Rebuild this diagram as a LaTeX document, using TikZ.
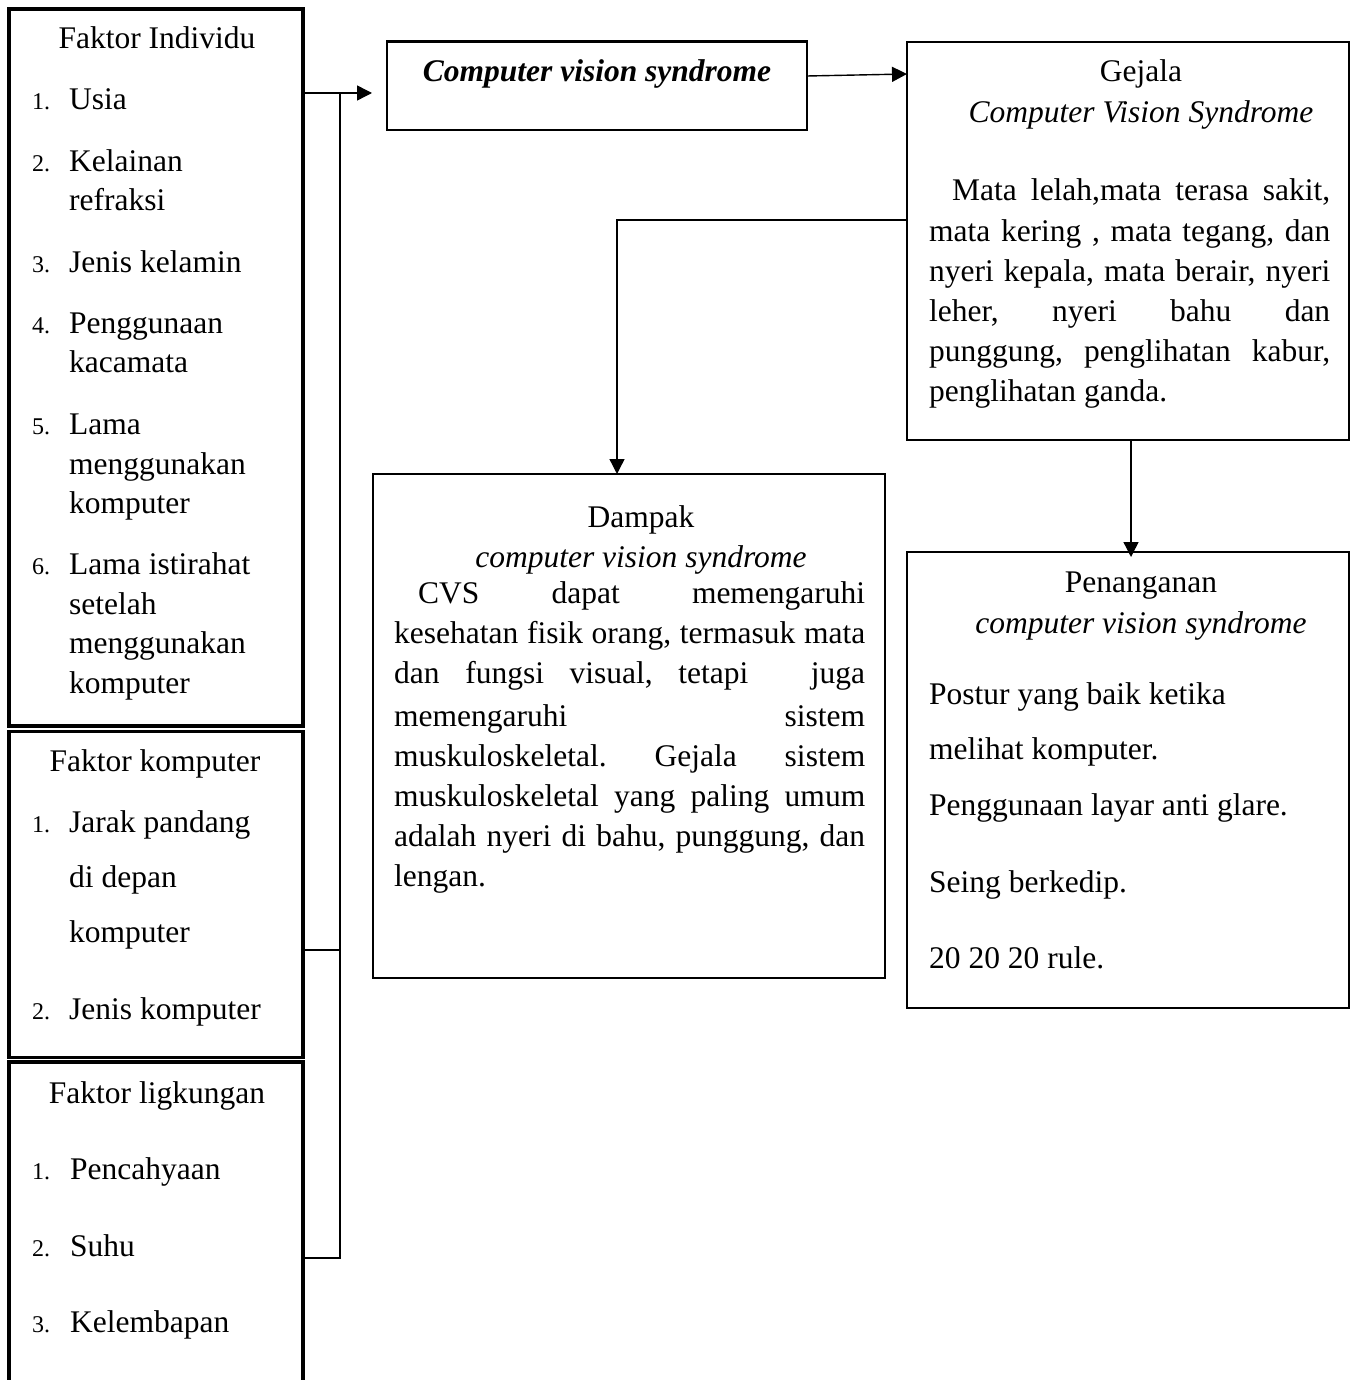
\documentclass[tikz,border=0pt]{standalone}
\usepackage{fontspec}
\setmainfont{Liberation Serif}
\usetikzlibrary{arrows.meta,calc}
\newcommand\jline[2]{\makebox[#1pt][s]{#2}}
\frenchspacing
\begin{document}
\begin{tikzpicture}[x=1pt,y=-1pt,
  box/.style={draw, line width=2.5pt, inner sep=0pt, outer sep=0pt, anchor=north west},
  lbox/.style={box, line width=3.5pt},
  conn/.style={line width=1.4pt},
  arr/.style={conn, -{Triangle[length=15pt,width=15pt]}},
  txt/.style={inner sep=0pt, anchor=base west, font=\fontsize{31.5}{40}\selectfont},
  ctxt/.style={txt, anchor=base},
  num/.style={inner sep=0pt, anchor=base west, font=\fontsize{24}{28}\selectfont}]
\useasboundingbox (0,0) rectangle (1355,1380);
\clip (0,0) rectangle (1355,1380);
\fill[white] (0,0) rectangle (1355,1380);

% ---------- boxes ----------
\node[lbox, minimum width=294pt, minimum height=717pt] (ind) at (9,9) {};
\node[lbox, minimum width=294pt, minimum height=325.8pt] (komp) at (9,731.5) {};
\node[lbox, minimum width=294pt, minimum height=360pt] (ling) at (9,1062) {};
\node[box, minimum width=420pt, minimum height=88.5pt] (cvs) at (387,41.5) {};
\node[box, minimum width=442pt, minimum height=398pt] (gej) at (907,42) {};
\node[box, minimum width=512pt, minimum height=504pt] (dam) at (373,474) {};
\node[box, minimum width=442pt, minimum height=456pt] (pen) at (907,552) {};

% ---------- left box texts ----------
\node[ctxt] (fi) at (157,49) {Faktor Individu};
\node[num] (n1) at (32,110) {1.};  \node[txt] (u1) at (69,110) {Usia};
\node[num] (n2) at (32,172) {2.};  \node[txt] (u2) at (69,172) {Kelainan};
\node[txt] (u2b) at (69,211) {refraksi};
\node[num] (n3) at (32,272) {3.};  \node[txt] (u3) at (69,272) {Jenis kelamin};
\node[num] (n4) at (32,333) {4.};  \node[txt] (u4) at (69,333) {Penggunaan};
\node[txt] (u4b) at (69,372) {kacamata};
\node[num] (n5) at (32,434) {5.};  \node[txt] (u5) at (69,434) {Lama};
\node[txt] (u5b) at (69,474) {menggunakan};
\node[txt] (u5c) at (69,513) {komputer};
\node[num] (n6) at (32,574) {6.};  \node[txt] (u6) at (69,574) {Lama istirahat};
\node[txt] (u6b) at (69,614) {setelah};
\node[txt] (u6c) at (69,653) {menggunakan};
\node[txt] (u6d) at (69,693) {komputer};

\node[ctxt] (fk) at (155,771) {Faktor komputer};
\node[num] (k1) at (32,832) {1.};  \node[txt] (v1) at (69,832) {Jarak pandang};
\node[txt] (v1b) at (69,887) {di depan};
\node[txt] (v1c) at (69,942) {komputer};
\node[num] (k2) at (32,1019) {2.}; \node[txt] (v2) at (69,1019) {Jenis komputer};

\node[ctxt] (fl) at (157,1103) {Faktor ligkungan};
\node[num] (l1) at (32,1179) {1.}; \node[txt] (w1) at (70,1179) {Pencahyaan};
\node[num] (l2) at (32,1256) {2.}; \node[txt] (w2) at (70,1256) {Suhu};
\node[num] (l3) at (32,1332) {3.}; \node[txt] (w3) at (70,1332) {Kelembapan};

% ---------- CVS box ----------
\node[ctxt] (cvst) at (597,82) {\bfseries\itshape Computer vision syndrome};

% ---------- Gejala ----------
\node[ctxt] (gt1) at (1141,82) {Gejala};
\node[ctxt] (gt2) at (1141,123) {\itshape Computer Vision Syndrome};
\node[txt] (gp1) at (952,201) {\jline{378}{Mata lelah,mata terasa sakit,}};
\node[txt] (gp2) at (929,241) {\jline{401}{mata kering , mata tegang, dan}};
\node[txt] (gp3) at (929,281) {\jline{401}{nyeri kepala, mata berair, nyeri}};
\node[txt] (gp4) at (929,321) {\jline{401}{leher, nyeri bahu dan}};
\node[txt] (gp5) at (929,361) {\jline{401}{punggung, penglihatan kabur,}};
\node[txt] (gp6) at (929,401) {penglihatan ganda.};

% ---------- Dampak ----------
\node[ctxt] (dt1) at (641,527) {Dampak};
\node[ctxt] (dt2) at (641,567) {\itshape computer vision syndrome};
\node[txt] (dp1) at (418,603) {\jline{447}{CVS dapat memengaruhi}};
\node[txt] (dp2) at (394,643) {\jline{471}{kesehatan fisik orang, termasuk mata}};
\node[txt] (dp3) at (394,683) {\jline{471}{dan fungsi visual, tetapi\hspace{37pt} juga}};
\node[txt] (dp4) at (394,726) {\jline{471}{memengaruhi sistem}};
\node[txt] (dp5) at (394,766) {\jline{471}{muskuloskeletal. Gejala sistem}};
\node[txt] (dp6) at (394,806) {\jline{471}{muskuloskeletal yang paling umum}};
\node[txt] (dp7) at (394,846) {\jline{471}{adalah nyeri di bahu, punggung, dan}};
\node[txt] (dp8) at (394,886) {lengan.};

% ---------- Penanganan ----------
\node[ctxt] (pt1) at (1141,592) {Penanganan};
\node[ctxt] (pt2) at (1141,633) {\itshape computer vision syndrome};
\node[txt] (pp1) at (929,704) {Postur yang baik ketika};
\node[txt] (pp2) at (929,759) {melihat komputer.};
\node[txt] (pp3) at (929,815) {Penggunaan layar anti glare.};
\node[txt] (pp4) at (929,892) {Seing berkedip.};
\node[txt] (pp5) at (929,968) {20 20 20 rule.};

% ---------- connectors ----------
\coordinate (jt) at (340,93);
\coordinate (jm) at (340,950);
\coordinate (jb) at (340,1258);
\coordinate (tip) at (372,93);
\draw[arr] (ind.east |- jt) -- (tip);
\draw[conn] (jt) -- (jb) -- (ling.east |- jb);
\draw[conn] (jm) -- (komp.east |- jm);

\draw[arr] (cvs.east |- 0,76) -- (gej.west |- 0,74);
\draw[arr] (gej.west |- 0,220) -| (dam.north -| 617,0);
\draw[arr, shorten >=-5pt] (gej.south -| 1131,0) -- (pen.north -| 1131,0);
\end{tikzpicture}
\end{document}
